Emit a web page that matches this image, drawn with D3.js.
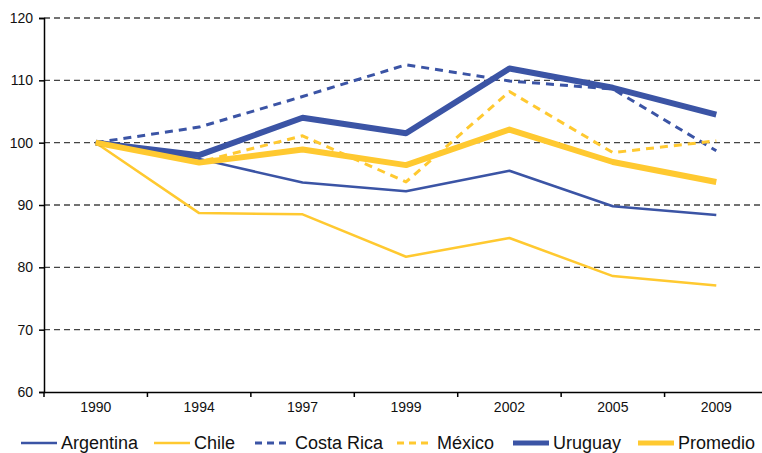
<!DOCTYPE html>
<html>
<head>
<meta charset="utf-8">
<script src="https://cdn.jsdelivr.net/npm/d3@7"></script>
<style>
  body { margin: 0; background: #fff; }
  svg { display: block; font-family: "Liberation Sans", Arial, sans-serif; }
</style>
</head>
<body>
<div id="chart"></div>
<script>
// data
const years = ['1990', '1994', '1997', '1999', '2002', '2005', '2009'];
const yTicks = [60, 70, 80, 90, 100, 110, 120];

const argentina = [100, 97.4, 93.6, 92.2, 95.5, 89.8, 88.4];
const chile = [100, 88.7, 88.5, 81.7, 84.7, 78.6, 77.1];
const costaRica = [100, 102.5, 107.4, 112.5, 109.9, 108.6, 98.7];
const mexico = [100, 96.9, 101.1, 93.7, 108.2, 98.4, 100.3];
const uruguay = [100, 98.0, 104.0, 101.5, 111.9, 108.8, 104.5];
const promedio = [100, 96.8, 98.9, 96.4, 102.1, 96.9, 93.7];

const seriesNames = ['Argentina', 'Chile', 'Costa Rica', 'México', 'Uruguay', 'Promedio'];
const seriesValues = [argentina, chile, costaRica, mexico, uruguay, promedio];

const blue = '#3b54a5';
const yellow = '#ffc930';
const styles = {
  'Argentina':  { color: blue,   width: 2.5, dash: null },
  'Chile':      { color: yellow, width: 2.5, dash: null },
  'Costa Rica': { color: blue,   width: 3,   dash: '8,6' },
  'México':     { color: yellow, width: 3,   dash: '8,6' },
  'Uruguay':    { color: blue,   width: 6,   dash: null },
  'Promedio':   { color: yellow, width: 6,   dash: null }
};

const width = 762, height = 453;
const margin = { top: 18, left: 44, bottom: 61 };
const plotRight = 768; // axis runs a little past the picture edge

const svg = d3.select('#chart').append('svg')
  .attr('width', width)
  .attr('height', height);

const x = d3.scaleBand()
  .domain(years)
  .range([margin.left, plotRight]);

const y = d3.scaleLinear()
  .domain([60, 120])
  .range([height - margin.bottom, margin.top]);

// gridlines
svg.append('g')
  .selectAll('line')
  .data(yTicks.filter(d => d > 60))
  .join('line')
  .attr('x1', margin.left)
  .attr('x2', plotRight)
  .attr('y1', d => y(d))
  .attr('y2', d => y(d))
  .attr('stroke', '#444')
  .attr('stroke-width', 1.3)
  .attr('stroke-dasharray', '6,4');

// y axis
const yAxis = svg.append('g')
  .attr('transform', `translate(${margin.left},0)`)
  .call(d3.axisLeft(y).tickValues(yTicks).tickSize(5).tickPadding(6));
yAxis.select('.domain').attr('stroke', '#000').attr('stroke-width', 1.5);
yAxis.selectAll('.tick line').attr('stroke', '#000').attr('stroke-width', 1.5);
yAxis.selectAll('.tick text').attr('font-size', 14).attr('fill', '#111');

// x axis
const xAxis = svg.append('g')
  .attr('transform', `translate(0,${y(60)})`)
  .call(d3.axisBottom(x).tickSize(0).tickPadding(10));
xAxis.select('.domain').attr('stroke', '#000').attr('stroke-width', 1.5);
xAxis.selectAll('.tick text').attr('font-size', 14).attr('fill', '#111');

// category separator ticks
xAxis.append('g')
  .selectAll('line')
  .data(years)
  .join('line')
  .attr('x1', d => x(d))
  .attr('x2', d => x(d))
  .attr('y1', 0)
  .attr('y2', 5)
  .attr('stroke', '#000')
  .attr('stroke-width', 1.5);

// lines
const line = d3.line()
  .x((d, i) => x(years[i]) + x.bandwidth() / 2)
  .y(d => y(d));

svg.append('g')
  .selectAll('path')
  .data(seriesNames)
  .join('path')
  .attr('d', (name, i) => line(seriesValues[i]))
  .attr('fill', 'none')
  .attr('stroke', name => styles[name].color)
  .attr('stroke-width', name => styles[name].width)
  .attr('stroke-dasharray', name => styles[name].dash)
  .attr('stroke-linejoin', 'round');

// legend
const legendX = [21, 154, 255, 397, 513, 638];
const legendY = 443;
const legend = svg.append('g')
  .selectAll('g')
  .data(seriesNames)
  .join('g')
  .attr('transform', (d, i) => `translate(${legendX[i]},${legendY})`);

legend.append('line')
  .attr('x1', 0)
  .attr('x2', 36)
  .attr('stroke', d => styles[d].color)
  .attr('stroke-width', d => Math.min(styles[d].width, 5))
  .attr('stroke-dasharray', d => styles[d].dash ? '7,5' : null);

legend.append('text')
  .attr('x', 40)
  .attr('dy', '0.35em')
  .attr('font-size', 18)
  .attr('fill', '#111')
  .text(d => d);
</script>
</body>
</html>
